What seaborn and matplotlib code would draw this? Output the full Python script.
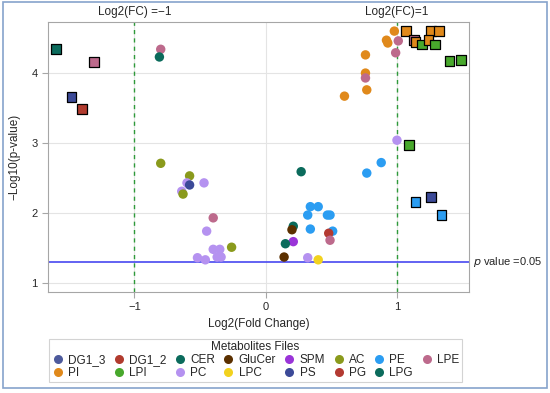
import matplotlib
matplotlib.use("Agg")
import matplotlib.pyplot as plt
import matplotlib.patches as mpatches
from matplotlib.lines import Line2D
import seaborn as sns
import pandas as pd

# metabolite groups, legend order (row by row)
groups = ["DG1_3", "DG1_2", "CER", "GluCer", "SPM", "AC", "PE", "LPE",
          "PI", "LPI", "PC", "LPC", "PS", "PG", "LPG"]
group_colors = ["#4d5a9c", "#b13b2e", "#0b6b5c", "#5b3000", "#9a34d8", "#8a9a1c",
                "#2b9df2", "#bd6a8c", "#e0891b", "#48a82c", "#b592f0", "#f2d21e",
                "#3c4a98", "#b33a32", "#0b6b5c"]

# points: log2 fold change, -log10(p), group, significant (square)
fc = [-1.60, -1.31, -1.48, -1.40,
      -0.80, -0.81, -0.80, -0.58, -0.60, -0.58, -0.47, -0.64, -0.63,
      -0.40, -0.45, -0.26, -0.40, -0.35, -0.37, -0.34, -0.52, -0.46,
      0.27, 0.34, 0.40, 0.32, 0.47, 0.49, 0.21, 0.20, 0.34, 0.51, 0.48, 0.49,
      0.21, 0.15, 0.14, 0.32, 0.40,
      0.98, 0.92, 0.93, 1.01, 0.99, 0.76, 0.76, 0.76, 0.77, 0.60, 1.00, 0.88, 0.77,
      1.07, 1.26, 1.32, 1.13, 1.14, 1.19, 1.24, 1.29, 1.40, 1.49, 1.09,
      1.14, 1.26, 1.34]
logp = [4.34, 4.16, 3.66, 3.49,
        4.34, 4.23, 2.71, 2.53, 2.43, 2.40, 2.43, 2.31, 2.27,
        1.93, 1.74, 1.51, 1.48, 1.48, 1.37, 1.37, 1.36, 1.33,
        2.59, 2.09, 2.09, 1.97, 1.97, 1.97, 1.81, 1.76, 1.77, 1.74, 1.71, 1.61,
        1.59, 1.56, 1.37, 1.36, 1.33,
        4.60, 4.47, 4.43, 4.46, 4.29, 4.26, 4.00, 3.93, 3.76, 3.67, 3.04, 2.72, 2.57,
        4.60, 4.60, 4.60, 4.47, 4.44, 4.41, 4.47, 4.41, 4.17, 4.19, 2.97,
        2.16, 2.23, 1.97]
grp = ["CER", "LPE", "PS", "DG1_2",
       "LPE", "LPG", "AC", "AC", "PC", "PS", "PC", "PC", "AC",
       "LPE", "PC", "AC", "PC", "PC", "PC", "PC", "PC", "PC",
       "LPG", "PE", "PE", "PE", "PE", "PE", "LPG", "GluCer", "PE", "PE", "PG", "LPE",
       "SPM", "CER", "GluCer", "PC", "LPC",
       "PI", "PI", "PI", "LPE", "LPE", "PI", "PI", "LPE", "PI", "PI", "PC", "PE", "PE",
       "PI", "PI", "PI", "LPE", "PI", "LPI", "PI", "LPI", "LPI", "LPI", "LPI",
       "PE", "PS", "PE"]
sig = [True] * 4 + [False] * 48 + [True] * 14

df = pd.DataFrame({"fc": fc, "logp": logp, "group": grp, "sig": sig})
palette = dict(zip(groups, group_colors))

sns.set_style("white")
plt.rcParams["font.family"] = ["Liberation Sans", "DejaVu Sans"]

fig = plt.figure(figsize=(5.5, 3.93), dpi=100)
ax = fig.add_axes([0.087, 0.257, 0.766, 0.687])

sns.scatterplot(data=df[~df.sig], x="fc", y="logp", hue="group", palette=palette,
                marker="o", s=46, linewidth=0, legend=False, ax=ax, zorder=3)
sns.scatterplot(data=df[df.sig], x="fc", y="logp", hue="group", palette=palette,
                marker="s", s=48, edgecolor="black", linewidth=0.9, legend=False,
                ax=ax, zorder=4)

ax.set_xlim(-1.66, 1.55)
ax.set_ylim(0.87, 4.73)
ax.set_xticks([-1, 0, 1])
ax.set_xticklabels(["\u22121", "0", "1"])
ax.set_yticks([1, 2, 3, 4])
ax.grid(True, color="#e4e4e4", linewidth=0.8)
ax.set_axisbelow(True)
for sp in ax.spines.values():
    sp.set_color("#a6a6a6")
    sp.set_linewidth(0.8)
ax.tick_params(axis="both", length=4, color="#a6a6a6", labelsize=8, left=True, bottom=True)
ax.set_xlabel("Log2(Fold Change)", fontsize=8.5, labelpad=4)
ax.set_ylabel("\u2212Log10(p-value)", fontsize=8.5, labelpad=8)

# thresholds
ax.axvline(-1, color="#2e9a3a", linestyle=(0, (3, 3)), linewidth=1, zorder=2)
ax.axvline(1, color="#2e9a3a", linestyle=(0, (3, 3)), linewidth=1, zorder=2)
ax.axhline(1.301, color="#4848f0", linewidth=1.2, zorder=2)
ax.text(-1, 1.015, "Log2(FC) =\u22121", transform=ax.get_xaxis_transform(),
        ha="center", va="bottom", fontsize=8.5)
ax.text(1, 1.015, "Log2(FC)=1", transform=ax.get_xaxis_transform(),
        ha="center", va="bottom", fontsize=8.5)
ax.text(1.01, 1.301, "$\\mathit{p}$ value =0.05", transform=ax.get_yaxis_transform(),
        ha="left", va="center", fontsize=8)

# legend, column-major order so rows read like the reference
handles = [Line2D([], [], marker="o", linestyle="", markersize=6.5,
                  markerfacecolor=c, markeredgewidth=0, label=g)
           for g, c in zip(groups, group_colors)]
top, bottom = handles[:8], handles[8:]
ordered = []
for i in range(8):
    ordered.append(top[i])
    if i < len(bottom):
        ordered.append(bottom[i])
leg = fig.legend(handles=ordered, ncol=8, title="Metabolites Files", loc="lower center",
                 bbox_to_anchor=(0.464, 0.014), fontsize=8.5, title_fontsize=8.5,
                 frameon=True, fancybox=False, edgecolor="#c8c8c8",
                 handletextpad=0.3, columnspacing=0.6, labelspacing=0.05,
                 borderpad=0.25, handlelength=1.1)
leg.get_frame().set_linewidth(0.8)

# outer border of the figure
fig.patches.append(mpatches.Rectangle((0.006, 0.012), 0.988, 0.982, transform=fig.transFigure,
                                      fill=False, edgecolor="#86a3cc", linewidth=1.2))

fig.savefig("out.png", dpi=100)
